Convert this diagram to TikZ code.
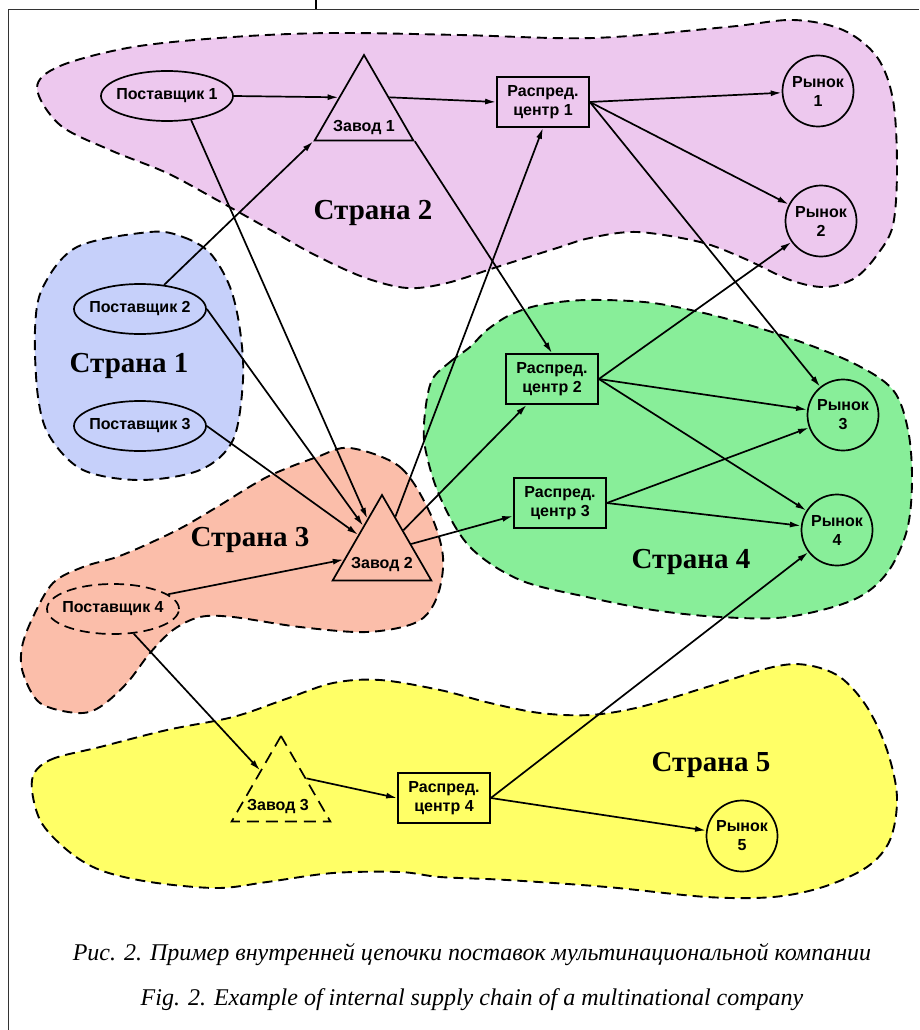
\documentclass[tikz,border=0pt]{standalone}
\usepackage{fontspec}
\setmainfont{Liberation Serif}
\newfontfamily\arialbf{Liberation Sans}
\usetikzlibrary{shapes.geometric,arrows.meta}

\definecolor{pinkc}{RGB}{237,200,238}
\definecolor{bluec}{RGB}{198,208,250}
\definecolor{salmonc}{RGB}{251,190,170}
\definecolor{greenc}{RGB}{136,238,153}
\definecolor{yellowc}{RGB}{255,255,102}
\newcommand{\boxfont}{\arialbf\bfseries\fontsize{16}{19}\selectfont}

\begin{document}
\begin{tikzpicture}[x=1pt,y=-1pt,
    country/.style={draw, line width=1.9pt, dash pattern=on 10pt off 6pt},
    cname/.style={font=\fontsize{29}{32}\selectfont\bfseries},
    supplier/.style={draw, ellipse, line width=1.7pt, minimum width=132pt, minimum height=50pt, inner xsep=-8pt, inner ysep=0pt, font=\boxfont},
    plant/.style={draw, regular polygon, regular polygon sides=3, line width=1.7pt, minimum size=114pt, inner sep=0pt},
    dcenter/.style={draw, rectangle, line width=1.7pt, minimum width=92pt, minimum height=50pt, align=center, inner sep=2pt, font=\boxfont},
    market/.style={draw, circle, line width=1.7pt, minimum size=71pt, inner sep=0pt, align=center, font=\boxfont},
    flow/.style={line width=1.7pt, -{Latex[length=11pt,width=6pt]}}]
    \useasboundingbox (0,0) rectangle (919,1030);

    % Рамка
    \draw[line width=1.2pt, black!80] (919,9.5) -- (8.5,9.5) -- (8.5,1030);
    \draw[line width=2pt] (316,0) -- (316,9.5);

    % Страна 2
    \fill[pinkc] plot[smooth cycle, tension=0.55] coordinates {(37,88) (60,66) (133,47) (233,37) (333,33) (460,35) (593,38) (727,27) (793,20) (843,30) (877,57) (893,100) (897,167) (893,225) (877,255) (855,278) (825,287) (790,280) (743,258) (700,242) (637,232) (590,238) (557,248) (497,267) (447,283) (407,288) (363,277) (313,254) (267,228) (217,200) (167,173) (110,150) (60,125)};
    \draw[country] plot[smooth cycle, tension=0.55] coordinates {(37,88) (60,66) (133,47) (233,37) (333,33) (460,35) (593,38) (727,27) (793,20) (843,30) (877,57) (893,100) (897,167) (893,225) (877,255) (855,278) (825,287) (790,280) (743,258) (700,242) (637,232) (590,238) (557,248) (497,267) (447,283) (407,288) (363,277) (313,254) (267,228) (217,200) (167,173) (110,150) (60,125)};

    % Страна 1
    \fill[bluec] plot[smooth cycle, tension=0.55] coordinates {(150,232) (183,237) (210,253) (230,287) (240,330) (243,380) (233,440) (200,470) (140,480) (83,470) (50,437) (38,397) (35,330) (43,287) (77,247)};
    \draw[country] plot[smooth cycle, tension=0.55] coordinates {(150,232) (183,237) (210,253) (230,287) (240,330) (243,380) (233,440) (200,470) (140,480) (83,470) (50,437) (38,397) (35,330) (43,287) (77,247)};

    % Страна 4
    \fill[greenc] plot[smooth cycle, tension=0.55] coordinates {(432,380) (450,362) (470,347) (487,330) (510,315) (540,305) (587,300) (653,303) (720,317) (787,337) (853,363) (893,390) (908,430) (912,480) (907,530) (887,573) (853,600) (787,617) (720,617) (653,610) (587,597) (520,580) (470,547) (440,497) (425,447) (425,413)};
    \draw[country] plot[smooth cycle, tension=0.55] coordinates {(432,380) (450,362) (470,347) (487,330) (510,315) (540,305) (587,300) (653,303) (720,317) (787,337) (853,363) (893,390) (908,430) (912,480) (907,530) (887,573) (853,600) (787,617) (720,617) (653,610) (587,597) (520,580) (470,547) (440,497) (425,447) (425,413)};

    % Страна 3
    \fill[salmonc] plot[smooth cycle, tension=0.55] coordinates {(350,448) (400,467) (430,513) (443,557) (437,597) (417,622) (367,632) (300,627) (233,617) (200,617) (173,630) (150,653) (127,683) (100,707) (77,713) (40,703) (23,673) (22,647) (33,617) (53,583) (83,567) (117,557) (150,543) (183,527) (217,507) (267,477) (317,457)};
    \draw[country] plot[smooth cycle, tension=0.55] coordinates {(350,448) (400,467) (430,513) (443,557) (437,597) (417,622) (367,632) (300,627) (233,617) (200,617) (173,630) (150,653) (127,683) (100,707) (77,713) (40,703) (23,673) (22,647) (33,617) (53,583) (83,567) (117,557) (150,543) (183,527) (217,507) (267,477) (317,457)};

    % Страна 5
    \fill[yellowc] plot[smooth cycle, tension=0.55] coordinates {(32,780) (50,760) (100,747) (167,730) (233,717) (283,700) (333,683) (380,680) (440,690) (490,703) (540,713) (590,715) (640,707) (707,687) (773,667) (807,665) (840,677) (867,707) (887,750) (897,797) (890,840) (867,867) (823,887) (773,897) (707,897) (607,887) (507,880) (440,877) (400,872) (333,873) (267,882) (217,888) (150,882) (100,870) (67,850) (40,820)};
    \draw[country] plot[smooth cycle, tension=0.55] coordinates {(32,780) (50,760) (100,747) (167,730) (233,717) (283,700) (333,683) (380,680) (440,690) (490,703) (540,713) (590,715) (640,707) (707,687) (773,667) (807,665) (840,677) (867,707) (887,750) (897,797) (890,840) (867,867) (823,887) (773,897) (707,897) (607,887) (507,880) (440,877) (400,872) (333,873) (267,882) (217,888) (150,882) (100,870) (67,850) (40,820)};

    % Названия стран
    \node[cname] (s1) at (129,366) {Страна 1};
    \node[cname] (s2) at (373,213) {Страна 2};
    \node[cname] (s3) at (250,540) {Страна 3};
    \node[cname] (s4) at (691,562) {Страна 4};
    \node[cname] (s5) at (711,765) {Страна 5};

    % Поставщики
    \node[supplier] (p1) at (167,96) {Поставщик 1};
    \node[supplier] (p2) at (140,309) {Поставщик 2};
    \node[supplier] (p3) at (140,426) {Поставщик 3};
    \node[supplier, dash pattern=on 10pt off 6pt] (p4) at (113,609) {Поставщик 4};

    % Заводы
    \node[plant, label={[yshift=-16pt,font=\boxfont]center:Завод 1}] (z1) at (364,112) {};
    \node[plant, label={[yshift=-13pt,font=\boxfont]center:Завод 2}] (z2) at (382,552) {};
    \node[plant, dash pattern=on 12pt off 7pt, label={[yshift=-13pt,xshift=-3pt,font=\boxfont]center:Завод 3}] (z3) at (281,793) {};

    % Распределительные центры
    \node[dcenter] (rc1) at (543,102) {Распред.\\центр 1};
    \node[dcenter] (rc2) at (552,379) {Распред.\\центр 2};
    \node[dcenter] (rc3) at (560,503) {Распред.\\центр 3};
    \node[dcenter] (rc4) at (444,798) {Распред.\\центр 4};

    % Рынки
    \node[market] (r1) at (818,91) {Рынок\\1};
    \node[market] (r2) at (821,221) {Рынок\\2};
    \node[market] (r3) at (843,415) {Рынок\\3};
    \node[market] (r4) at (837,530) {Рынок\\4};
    \node[market] (r5) at (742,836) {Рынок\\5};

    % Потоки
    \draw[flow] (p1.east) -- (z1.side 1);
    \draw[flow] (p1.-45) -- (z2);
    \draw[flow] (p2.45) -- (z1.corner 2);
    \draw[flow] (p2.east) -- (z2);
    \draw[flow] (p3.east) -- (z2);
    \draw[flow] (p4.15) -- (z2);
    \draw[flow] (p4.-50) -- (z3);
    \draw[flow] (z1.side 3) -- (rc1.west);
    \draw[flow] (z1.corner 3) -- (rc2.north);
    \draw[flow] (z2) -- (rc1.south);
    \draw[flow] (z2) -- (rc2);
    \draw[flow] (z2) -- (rc3);
    \draw[flow] (z3.side 3) -- (rc4.west);
    \draw[flow] (rc1.east) -- (r1);
    \draw[flow] (rc1.east) -- (r2);
    \draw[flow] (rc1.east) -- (r3);
    \draw[flow] (rc2.east) -- (r2);
    \draw[flow] (rc2.east) -- (r3);
    \draw[flow] (rc2.east) -- (r4);
    \draw[flow] (rc3.east) -- (r3);
    \draw[flow] (rc3.east) -- (r4);
    \draw[flow] (rc4.east) -- (r4);
    \draw[flow] (rc4.east) -- (r5);

    % Подпись
    \node[font=\fontsize{24}{26}\selectfont\itshape] (cap1) at (472,955) {Рис. 2. Пример внутренней цепочки поставок мультинациональной компании};
    \node[font=\fontsize{24}{26}\selectfont\itshape] (cap2) at (472,1000) {Fig. 2. Example of internal supply chain of a multinational company};
\end{tikzpicture}
\end{document}
